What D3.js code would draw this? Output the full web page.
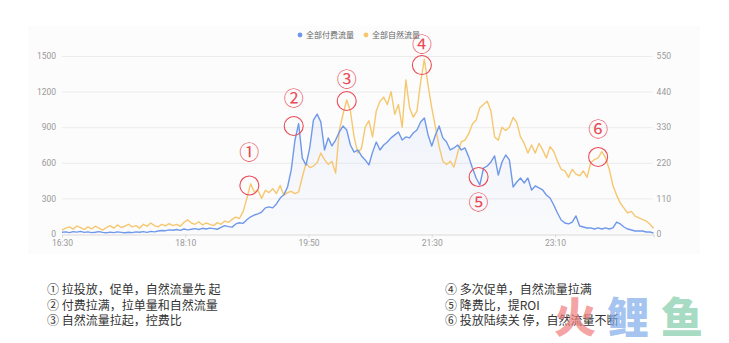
<!DOCTYPE html>
<html>
<head>
<meta charset="utf-8">
<script src="https://cdn.jsdelivr.net/npm/d3@7/dist/d3.min.js"></script>
<style>
  html, body { margin: 0; padding: 0; background: #fff; }
  svg { display: block; }
  text { font-family: "Noto Sans CJK SC", "Noto Sans", sans-serif; }
</style>
</head>
<body>
<svg id="chart" width="729" height="343"></svg>
<script>
// Sampling: one reading every 3 minutes from 16:30
const stepMinutes = 3;
const startHour = 16, startMinute = 30;

// 全部付费流量 (left axis)
const paidTraffic = [
  15,18,12,20,16,22,14,18,12,15,
  20,14,10,16,12,18,14,10,15,12,
  18,15,20,14,22,18,25,30,28,35,
  32,38,30,42,35,40,45,38,48,42,
  50,45,40,55,70,62,58,85,95,90,
  120,145,160,170,185,220,228,220,253,303,
  330,396,540,790,930,640,580,725,960,1010,
  945,708,810,742,792,860,910,877,750,690,
  708,658,624,582,690,775,708,750,775,810,
  835,860,792,818,810,851,877,944,978,835,
  742,835,910,810,775,708,725,750,708,725,
  650,556,472,413,556,573,607,658,497,607,
  666,624,396,438,472,430,472,371,405,388,
  371,329,303,244,177,118,93,85,101,152,
  67,59,51,51,42,51,42,51,42,51,
  101,85,59,42,34,25,25,25,17,17,8
];

// 全部自然流量 (right axis)
const naturalTraffic = [
  12,18,22,15,25,20,14,22,16,24,
  18,12,20,26,18,28,20,24,30,22,
  26,18,30,24,34,26,22,30,25,32,
  26,30,24,36,44,34,30,38,28,34,
  30,26,35,30,40,36,45,52,48,70,
  110,155,130,135,110,135,128,140,125,150,
  120,128,132,125,130,176,219,205,210,220,
  250,230,215,225,188,320,370,414,380,300,
  250,265,330,350,300,380,410,423,400,440,
  370,400,330,476,390,361,380,470,540,460,
  390,330,270,225,215,225,207,250,285,290,
  310,340,352,390,400,410,380,300,290,330,
  320,330,360,345,300,280,250,275,250,280,
  260,235,270,255,225,200,195,175,200,185,
  180,195,175,220,230,235,255,235,200,150,
  120,95,80,65,70,55,50,45,40,30,18
];

const seriesNames = ["全部付费流量", "全部自然流量"];
const seriesColors = ["#6f98ea", "#f6c76f"];

const leftTicks = [0, 300, 600, 900, 1200, 1500];
const rightTicks = [0, 110, 220, 330, 440, 550];
const timeTickMinutes = [0, 100, 200, 300, 400];

// Call-outs: circled number, minute offset, value, axis, label offset
const noteMarks   = ["①", "②", "③", "④", "⑤", "⑥"];
const noteMinutes = [152, 188, 231, 292, 338, 435];
const noteValues  = [150, 910, 411, 522, 480, 238];
const noteAxis    = ["right", "left", "right", "right", "left", "right"];
const noteLift    = [-32, -27, -21, -20, 26, -27];

const notesLeft = [
  "① 拉投放，促单，自然流量先 起",
  "② 付费拉满，拉单量和自然流量",
  "③ 自然流量拉起，控费比"
];
const notesRight = [
  "④ 多次促单，自然流量拉满",
  "⑤ 降费比，提ROI",
  "⑥ 投放陆续关 停，自然流量不断"
];

const svg = d3.select("#chart");
const plot = { left: 62, right: 653.6, top: 56, bottom: 234 };

const base = new Date(2020, 0, 1, startHour, startMinute);
const toDate = m => new Date(base.getTime() + m * 60000);
const totalMinutes = (paidTraffic.length - 1) * stepMinutes;

const x = d3.scaleTime()
  .domain([base, toDate(totalMinutes)])
  .range([plot.left, plot.right]);
const yLeft = d3.scaleLinear().domain([0, 1500]).range([plot.bottom, plot.top]);
const yRight = d3.scaleLinear().domain([0, 550]).range([plot.bottom, plot.top]);

// faint panel behind the chart
svg.append("rect")
  .attr("x", 28).attr("y", 26).attr("width", 672).attr("height", 228)
  .attr("fill", "#fcfcfc");

// horizontal grid
svg.append("g")
  .selectAll("line")
  .data(leftTicks.filter(d => d > 0))
  .join("line")
  .attr("x1", plot.left).attr("x2", plot.right - 1)
  .attr("y1", d => yLeft(d) + 0.5).attr("y2", d => yLeft(d) + 0.5)
  .attr("stroke", "#ececec").attr("stroke-width", 1);

const axisFont = "Roboto, 'Noto Sans', sans-serif";

// left axis
const gLeft = svg.append("g")
  .attr("transform", `translate(${plot.left - 6},0)`)
  .call(d3.axisLeft(yLeft).tickValues(leftTicks).tickFormat(d3.format("d"))
    .tickSize(0).tickPadding(0));
gLeft.select(".domain").remove();
gLeft.selectAll("text")
  .attr("fill", "#999").attr("font-size", 8.5).style("font-family", axisFont);

// right axis
const gRight = svg.append("g")
  .attr("transform", `translate(${plot.right + 3},0)`)
  .call(d3.axisRight(yRight).tickValues(rightTicks).tickFormat(d3.format("d"))
    .tickSize(0).tickPadding(0));
gRight.select(".domain").remove();
gRight.selectAll("text")
  .attr("fill", "#999").attr("font-size", 8.5).style("font-family", axisFont);

// time axis
const gX = svg.append("g")
  .attr("transform", `translate(0,${plot.bottom + 0.5})`)
  .call(d3.axisBottom(x)
    .tickValues(timeTickMinutes.map(toDate))
    .tickFormat(d3.timeFormat("%H:%M"))
    .tickSize(3).tickPadding(2));
gX.select(".domain").attr("stroke", "#d9d9d9");
gX.selectAll(".tick line").attr("stroke", "#d9d9d9");
gX.selectAll("text")
  .attr("fill", "#999").attr("font-size", 8.5).style("font-family", axisFont);

// soft fill under the paid-traffic line
const defs = svg.append("defs");
const grad = defs.append("linearGradient")
  .attr("id", "paidFill").attr("x1", 0).attr("x2", 0).attr("y1", 0).attr("y2", 1);
grad.append("stop").attr("offset", "0%").attr("stop-color", "#6f98ea").attr("stop-opacity", 0.09);
grad.append("stop").attr("offset", "100%").attr("stop-color", "#6f98ea").attr("stop-opacity", 0.015);

const paidPts = paidTraffic.map((v, i) => ({ t: toDate(i * stepMinutes), v }));
const naturalPts = naturalTraffic.map((v, i) => ({ t: toDate(i * stepMinutes), v }));

svg.append("path")
  .datum(paidPts)
  .attr("fill", "url(#paidFill)")
  .attr("d", d3.area().x(d => x(d.t)).y0(plot.bottom).y1(d => yLeft(d.v)));

svg.append("path")
  .datum(naturalPts)
  .attr("fill", "none")
  .attr("stroke", seriesColors[1]).attr("stroke-width", 1.4)
  .attr("stroke-linejoin", "round")
  .attr("d", d3.line().x(d => x(d.t)).y(d => yRight(d.v)));

svg.append("path")
  .datum(paidPts)
  .attr("fill", "none")
  .attr("stroke", seriesColors[0]).attr("stroke-width", 1.4)
  .attr("stroke-linejoin", "round")
  .attr("d", d3.line().x(d => x(d.t)).y(d => yLeft(d.v)));

// legend
const legend = svg.append("g").attr("transform", "translate(300,35)");
const legendX = [0, 66];
seriesNames.forEach((name, i) => {
  const g = legend.append("g").attr("transform", `translate(${legendX[i]},0)`);
  g.append("circle").attr("r", 2.4).attr("fill", seriesColors[i]);
  g.append("text").attr("x", 6).attr("dy", "0.35em")
    .attr("font-size", 8).attr("fill", "#666").text(name);
});

// call-out circles with their numbers
const red = "#ea4a55";
noteMarks.forEach((mark, i) => {
  const cx = x(toDate(noteMinutes[i]));
  const cy = (noteAxis[i] === "left" ? yLeft : yRight)(noteValues[i]);
  svg.append("circle")
    .attr("cx", cx).attr("cy", cy).attr("r", 9.5)
    .attr("fill", "none").attr("stroke", red).attr("stroke-width", 1.1);
  svg.append("text")
    .attr("x", cx).attr("y", cy + noteLift[i])
    .attr("text-anchor", "middle").attr("dy", "0.35em")
    .attr("font-size", 20).attr("fill", red).text(mark);
});

// notes beneath the chart
const noteY = [290, 305.5, 321];
notesLeft.forEach((s, i) => {
  svg.append("text").attr("x", 47).attr("y", noteY[i]).attr("dy", "0.35em")
    .attr("font-size", 12).attr("fill", "#333").text(s);
});
notesRight.forEach((s, i) => {
  svg.append("text").attr("x", 445).attr("y", noteY[i]).attr("dy", "0.35em")
    .attr("font-size", 12).attr("fill", "#333").text(s);
});

// brand mark
const brand = [
  { ch: "火", x: 575, color: "#ef7b7b" },
  { ch: "鲤", x: 628, color: "#7eaaea" },
  { ch: "鱼", x: 682, color: "#7fcca8" }
];
brand.forEach(b => {
  svg.append("text")
    .attr("x", b.x).attr("y", 318).attr("dy", "0.35em")
    .attr("text-anchor", "middle")
    .attr("font-size", 42).attr("font-weight", 900)
    .attr("fill", b.color).attr("fill-opacity", 0.7)
    .text(b.ch);
});
</script>
</body>
</html>
